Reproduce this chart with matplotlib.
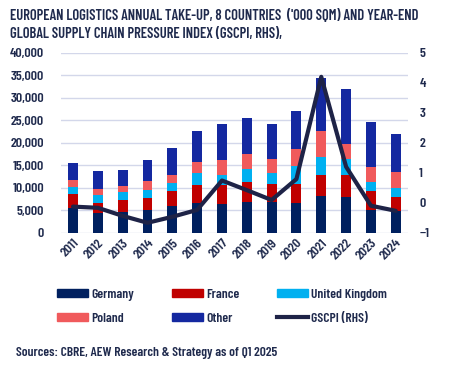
import matplotlib.pyplot as plt
from matplotlib.patches import Patch
from matplotlib.lines import Line2D

plt.rcParams["font.family"] = ["Barlow Condensed", "DejaVu Sans"]
plt.rcParams["font.weight"] = 600

TXT = "#1F2A4D"

years = ["2011", "2012", "2013", "2014", "2015", "2016", "2017",
         "2018", "2019", "2020", "2021", "2022", "2023", "2024"]

# annual take-up by country ('000 sqm)
germany = [5.6, 4.4, 4.6, 5.0, 5.9, 6.6, 6.4, 6.8, 6.8, 6.6, 8.1, 7.9, 5.0, 4.8]
france = [3.0, 2.2, 2.7, 2.7, 3.4, 4.0, 4.3, 4.5, 4.0, 4.2, 4.7, 4.9, 4.3, 3.1]
uk = [1.55, 1.8, 1.8, 1.9, 1.7, 2.7, 2.1, 2.8, 2.5, 4.0, 4.0, 3.6, 2.0, 2.0]
poland = [1.55, 1.3, 1.3, 1.9, 1.8, 2.4, 3.3, 3.4, 3.1, 3.8, 5.8, 3.3, 3.3, 3.6]
other = [3.8, 4.0, 3.5, 4.6, 6.0, 6.9, 8.0, 8.0, 7.7, 8.4, 11.8, 12.2, 10.0, 8.4]

gscpi = [-0.13, -0.17, -0.44, -0.67, -0.47, -0.24, 0.74, 0.42, 0.09,
         0.79, 4.2, 1.2, -0.1, -0.27]

series = [
    ("Germany", germany, "#00205F"),
    ("France", france, "#C00000"),
    ("United Kingdom", uk, "#00B0F0"),
    ("Poland", poland, "#F05A5C"),
    ("Other", other, "#1428A0"),
]
LINE_COL = "#1E2347"

fig = plt.figure(figsize=(4.49, 3.72), dpi=100)
ax = fig.add_axes([0.135, 0.3745, 0.774, 0.4835])

x = list(range(len(years)))
bottom = [0.0] * len(years)
for name, vals, col in series:
    v = [a * 1000 for a in vals]
    ax.bar(x, v, bottom=bottom, width=0.4, color=col, zorder=2)
    bottom = [b + c for b, c in zip(bottom, v)]

ax.set_xlim(-0.5, 13.5)
ax.set_ylim(0, 40000)
ax.set_yticks(range(0, 40001, 5000))
ax.set_yticklabels([f"{t:,}" for t in range(0, 40001, 5000)])
ax.grid(axis="y", color="#D3D7EA", linewidth=1, zorder=0)
ax.set_axisbelow(True)
for s in ax.spines.values():
    s.set_visible(False)
ax.tick_params(axis="both", length=0, colors=TXT, labelsize=10)
ax.tick_params(axis="y", pad=12)
ax.tick_params(axis="x", pad=3)
ax.set_xticks(x)
ax.set_xticklabels(years, rotation=45, ha="right", rotation_mode="anchor")

ax2 = ax.twinx()
ax2.plot(x, gscpi, color=LINE_COL, linewidth=3, zorder=5, solid_capstyle="round")
ax2.set_ylim(-1, 5)
ax2.set_yticks(range(-1, 6))
for s in ax2.spines.values():
    s.set_visible(False)
ax2.tick_params(axis="y", length=0, colors=TXT, labelsize=10, pad=8)

fig.text(0.022, 0.975, "EUROPEAN LOGISTICS ANNUAL TAKE-UP, 8 COUNTRIES  ('000 SQM) AND YEAR-END\n"
         "GLOBAL SUPPLY CHAIN PRESSURE INDEX (GSCPI, RHS),",
         ha="left", va="top", fontsize=10.5, fontweight=600, color=TXT, linespacing=1.3)

handles = [
    Patch(color="#00205F", label="Germany"),
    Patch(color="#F05A5C", label="Poland"),
    Patch(color="#C00000", label="France"),
    Patch(color="#1428A0", label="Other"),
    Patch(color="#00B0F0", label="United Kingdom"),
    Line2D([], [], color=LINE_COL, linewidth=3, label="GSCPI (RHS)"),
]
leg = fig.legend(handles=handles, ncol=3, loc="upper left", bbox_to_anchor=(0.127, 0.224),
                 frameon=False, fontsize=9.8, handlelength=2.25, handleheight=0.55,
                 handletextpad=0.25, columnspacing=2.8, labelspacing=0.9,
                 borderaxespad=0, borderpad=0)
for t in leg.get_texts():
    t.set_color(TXT)

fig.text(0.036, 0.05, "Sources: CBRE, AEW Research & Strategy as of Q1 2025",
         ha="left", va="center", fontsize=9.7, color=TXT)

fig.savefig("out.png", dpi=100)
